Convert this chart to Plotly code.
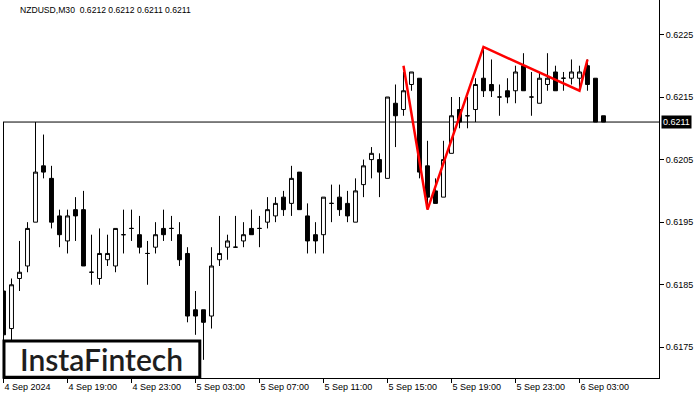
import plotly.graph_objects as go

# MT4 style colours (white scheme)
COLORS = {
    'candle': '#000000',
    'bull_fill': '#FFFFFF',
    'bear_fill': '#000000',
    'pattern': '#FF0000',
    'background': '#FFFFFF',
    'text': '#000000',
    'logo': '#1E1E1E',
}

# bar index (M30 bars starting 4 Sep 15:00)
bar_index = list(range(76))

opens = [
    0.6184, 0.6178, 0.6186, 0.6188, 0.6195, 0.6204, 0.6202, 0.6196, 0.6192, 0.6197,
    0.6197, 0.6187, 0.6186, 0.6189, 0.6188, 0.6193, 0.6194, 0.6193, 0.6190, 0.6191,
    0.6194, 0.6194, 0.6193, 0.6190, 0.6181, 0.6181, 0.6180, 0.6189, 0.6191, 0.6191,
    0.6192, 0.6194, 0.6194, 0.6195, 0.6196, 0.6199, 0.6198, 0.6203, 0.6196, 0.6193,
    0.6193, 0.6198, 0.6199, 0.6198, 0.6195, 0.6201, 0.6205, 0.6205, 0.6202, 0.6214,
    0.6213, 0.6217, 0.6218, 0.6204, 0.6200, 0.6199, 0.6206, 0.6213, 0.6212, 0.6213,
    0.6218, 0.6217, 0.6215, 0.6216, 0.6216, 0.6220, 0.6215, 0.6214, 0.6217, 0.6219,
    0.6218, 0.6218, 0.6218, 0.6220, 0.6218, 0.6212,
]
highs = [
    0.6211, 0.6186, 0.6192, 0.6195, 0.6211, 0.6209, 0.6204, 0.6197, 0.6197, 0.6199,
    0.6200, 0.6193, 0.6194, 0.6193, 0.6194, 0.6197, 0.6197, 0.6196, 0.6192, 0.6195,
    0.6197, 0.6196, 0.6195, 0.6191, 0.6184, 0.6181, 0.6191, 0.6196, 0.6193, 0.6196,
    0.6195, 0.6197, 0.6196, 0.6199, 0.6199, 0.6200, 0.6204, 0.6203, 0.6198, 0.6195,
    0.6199, 0.6201, 0.6201, 0.6200, 0.6202, 0.6205, 0.6207, 0.6206, 0.6215, 0.6217,
    0.6219, 0.6219, 0.6218, 0.6208, 0.6202, 0.6208, 0.6215, 0.6215, 0.6215, 0.6218,
    0.6223, 0.6221, 0.6217, 0.6218, 0.6220, 0.6222, 0.6219, 0.6219, 0.6222, 0.6220,
    0.6219, 0.6221, 0.6220, 0.6221, 0.6218, 0.6212,
]
lows = [
    0.6169, 0.6176, 0.6184, 0.6187, 0.6195, 0.6202, 0.6194, 0.6191, 0.6190, 0.6192,
    0.6188, 0.6185, 0.6185, 0.6188, 0.6187, 0.6190, 0.6192, 0.6190, 0.6185, 0.6190,
    0.6192, 0.6192, 0.6188, 0.6179, 0.6177, 0.6173, 0.6178, 0.6188, 0.6189, 0.6191,
    0.6191, 0.6193, 0.6191, 0.6194, 0.6195, 0.6196, 0.6196, 0.6197, 0.6190, 0.6190,
    0.6190, 0.6195, 0.6196, 0.6195, 0.6195, 0.6199, 0.6202, 0.6199, 0.6202, 0.6207,
    0.6212, 0.6216, 0.6202, 0.6197, 0.6198, 0.6199, 0.6206, 0.6210, 0.6210, 0.6211,
    0.6215, 0.6215, 0.6212, 0.6214, 0.6214, 0.6216, 0.6212, 0.6214, 0.6216, 0.6216,
    0.6216, 0.6217, 0.6216, 0.6216, 0.6211, 0.6211,
]
closes = [
    0.6177, 0.6185, 0.6187, 0.6194, 0.6203, 0.6203, 0.6195, 0.6193, 0.6196, 0.6196,
    0.6188, 0.6187, 0.6190, 0.6190, 0.6194, 0.6193, 0.6194, 0.6191, 0.6190, 0.6193,
    0.6193, 0.6194, 0.6189, 0.6180, 0.6180, 0.6179, 0.6188, 0.6190, 0.6192, 0.6191,
    0.6193, 0.6193, 0.6194, 0.6197, 0.6198, 0.6197, 0.6202, 0.6197, 0.6192, 0.6192,
    0.6199, 0.6198, 0.6197, 0.6196, 0.6200, 0.6204, 0.6206, 0.6203, 0.6215, 0.6212,
    0.6216, 0.6219, 0.6203, 0.6199, 0.6198, 0.6205, 0.6212, 0.6211, 0.6212, 0.6217,
    0.6216, 0.6216, 0.6215, 0.6215, 0.6219, 0.6216, 0.6215, 0.6218, 0.6218, 0.6216,
    0.6218, 0.6219, 0.6219, 0.6217, 0.6211, 0.6211,
]

# red pattern polyline (bar index, price)
pattern_x = [50, 53, 60, 72, 73]
pattern_y = [0.6220, 0.6197, 0.6223, 0.6216, 0.6221]

time_tickvals = [0, 8, 16, 24, 32, 40, 48, 56, 64, 72]
time_ticktext = [
    '4 Sep 2024', '4 Sep 19:00', '4 Sep 23:00', '5 Sep 03:00', '5 Sep 07:00',
    '5 Sep 11:00', '5 Sep 15:00', '5 Sep 19:00', '5 Sep 23:00', '6 Sep 03:00',
]
price_tickvals = [0.6175, 0.6185, 0.6195, 0.6205, 0.6215, 0.6225]

current_price = 0.6211
header = 'NZDUSD,M30\u00a0\u00a00.6212 0.6212 0.6211 0.6211'

fig = go.Figure()

fig.add_trace(go.Candlestick(
    x=bar_index,
    open=opens,
    high=highs,
    low=lows,
    close=closes,
    increasing=dict(line=dict(color=COLORS['candle'], width=1), fillcolor=COLORS['bull_fill']),
    decreasing=dict(line=dict(color=COLORS['candle'], width=1), fillcolor=COLORS['bear_fill']),
    whiskerwidth=0,
    showlegend=False,
    hoverinfo='skip',
))

fig.add_trace(go.Scatter(
    x=pattern_x,
    y=pattern_y,
    mode='lines',
    line=dict(color=COLORS['pattern'], width=2.5),
    showlegend=False,
    hoverinfo='skip',
))

# current price line
fig.add_shape(
    type='line', xref='paper', yref='y',
    x0=0, x1=1, y0=current_price, y1=current_price,
    line=dict(color='black', width=1),
    layer='below',
)

# logo box
fig.add_shape(
    type='rect', xref='paper', yref='paper',
    x0=0.0015, x1=0.300, y0=0.002, y1=0.098,
    line=dict(color='black', width=3),
    fillcolor='white',
    layer='above',
)

fig.add_annotation(
    text='InstaFintech', xref='paper', yref='paper',
    x=0.150, y=0.050, xanchor='center', yanchor='middle',
    showarrow=False,
    font=dict(family='Lato', size=30, color=COLORS['logo'], weight=600),
)

# symbol header
fig.add_annotation(
    text=header, xref='paper', yref='paper',
    x=0.023, y=0.974, xanchor='left', yanchor='middle',
    showarrow=False,
    font=dict(family='Liberation Sans', size=8.6, color=COLORS['text']),
)

# current price tag on the right axis
fig.add_annotation(
    text='0.6211', xref='paper', yref='y',
    x=1, y=current_price, xanchor='left', yanchor='middle', xshift=2,
    showarrow=False,
    bgcolor='black', borderpad=1,
    font=dict(family='Liberation Sans', size=9, color='white'),
)

fig.update_layout(
    template='none',
    width=700, height=400,
    margin=dict(l=3, r=41, t=0, b=22, pad=0),
    plot_bgcolor=COLORS['background'],
    paper_bgcolor=COLORS['background'],
    font=dict(family='Liberation Sans', size=9, color=COLORS['text']),
    xaxis=dict(
        range=[-0.0625, 81.94],
        rangeslider=dict(visible=False),
        automargin=False,
        tickvals=time_tickvals,
        ticktext=time_ticktext,
        ticklabelposition='outside right',
        ticks='outside', ticklen=4, tickcolor='black',
        showgrid=False, zeroline=False,
        showline=True, linecolor='black', linewidth=1,
    ),
    yaxis=dict(
        side='right',
        range=[0.61701, 0.62305],
        automargin=False,
        tickvals=price_tickvals,
        tickformat='.4f',
        ticks='outside', ticklen=4, tickcolor='black',
        showgrid=False, zeroline=False,
        showline=True, linecolor='black', linewidth=1,
    ),
)

# the page body has a default 8px margin; drop it so the figure fills the window
fig.write_html(
    'out.html',
    config={'displayModeBar': False},
    post_script="document.body.style.margin='0';",
)
